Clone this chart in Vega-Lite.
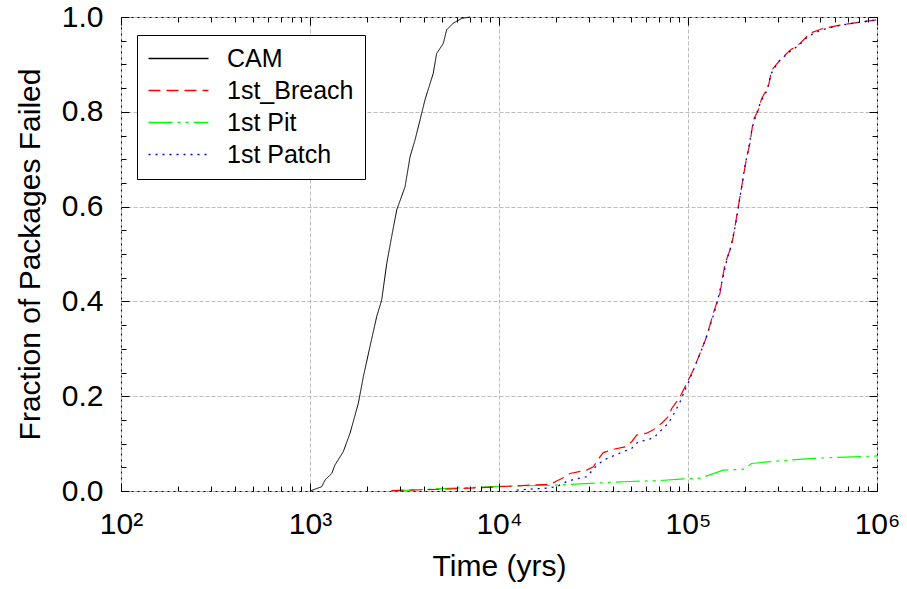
{
  "$schema": "https://vega.github.io/schema/vega-lite/v6.json",
  "width": 756,
  "height": 474,
  "autosize": "none",
  "padding": {"left": 121, "top": 17, "right": 30, "bottom": 98},
  "background": "white",
  "config": {
    "font": "Liberation Sans",
    "view": {"stroke": "#000000", "strokeWidth": 1},
    "axis": {
      "labelFont": "Liberation Sans",
      "titleFont": "Liberation Sans",
      "labelFontSize": 30,
      "titleFontSize": 30,
      "titleFontWeight": "normal",
      "labelColor": "#000000",
      "titleColor": "#000000",
      "tickColor": "#000000",
      "tickOpacity": 1,
      "tickWidth": 1,
      "ticks": true,
      "domain": false,
      "gridColor": "#bdbdbd",
      "gridDash": [4, 2],
      "gridWidth": 1,
      "labelFlush": false,
      "labelOverlap": false
    },
    "legend": {
      "labelFont": "Liberation Sans",
      "labelFontSize": 25,
      "labelColor": "#000000"
    }
  },
  "data": {
    "values": [
      {"s": "CAM", "t": 1000, "f": 0},
      {"s": "CAM", "t": 1153, "f": 0.009},
      {"s": "CAM", "t": 1200, "f": 0.023},
      {"s": "CAM", "t": 1303, "f": 0.037},
      {"s": "CAM", "t": 1356, "f": 0.055},
      {"s": "CAM", "t": 1500, "f": 0.083},
      {"s": "CAM", "t": 1629, "f": 0.122},
      {"s": "CAM", "t": 1802, "f": 0.185},
      {"s": "CAM", "t": 1915, "f": 0.241},
      {"s": "CAM", "t": 2077, "f": 0.305},
      {"s": "CAM", "t": 2254, "f": 0.368},
      {"s": "CAM", "t": 2395, "f": 0.403},
      {"s": "CAM", "t": 2547, "f": 0.48},
      {"s": "CAM", "t": 2705, "f": 0.537},
      {"s": "CAM", "t": 2877, "f": 0.593},
      {"s": "CAM", "t": 3184, "f": 0.642},
      {"s": "CAM", "t": 3383, "f": 0.705},
      {"s": "CAM", "t": 3597, "f": 0.741},
      {"s": "CAM", "t": 3822, "f": 0.783},
      {"s": "CAM", "t": 4057, "f": 0.825},
      {"s": "CAM", "t": 4488, "f": 0.881},
      {"s": "CAM", "t": 4677, "f": 0.923},
      {"s": "CAM", "t": 5072, "f": 0.944},
      {"s": "CAM", "t": 5287, "f": 0.973},
      {"s": "CAM", "t": 5728, "f": 0.987},
      {"s": "CAM", "t": 6350, "f": 0.997},
      {"s": "CAM", "t": 7030, "f": 1.0},
      {"s": "1st Pit", "t": 2680, "f": 0.0},
      {"s": "1st Pit", "t": 3400, "f": 0.002},
      {"s": "1st Pit", "t": 5700, "f": 0.006},
      {"s": "1st Pit", "t": 7930, "f": 0.008},
      {"s": "1st Pit", "t": 10100, "f": 0.01},
      {"s": "1st Pit", "t": 18600, "f": 0.012},
      {"s": "1st Pit", "t": 26800, "f": 0.015},
      {"s": "1st Pit", "t": 30290, "f": 0.016},
      {"s": "1st Pit", "t": 49320, "f": 0.02},
      {"s": "1st Pit", "t": 71100, "f": 0.022},
      {"s": "1st Pit", "t": 90780, "f": 0.025},
      {"s": "1st Pit", "t": 115700, "f": 0.027},
      {"s": "1st Pit", "t": 135000, "f": 0.036},
      {"s": "1st Pit", "t": 153800, "f": 0.044},
      {"s": "1st Pit", "t": 196300, "f": 0.046},
      {"s": "1st Pit", "t": 217300, "f": 0.058},
      {"s": "1st Pit", "t": 271600, "f": 0.062},
      {"s": "1st Pit", "t": 460300, "f": 0.069},
      {"s": "1st Pit", "t": 749400, "f": 0.072},
      {"s": "1st Pit", "t": 1000000, "f": 0.074},
      {"s": "1st_Breach", "t": 2700, "f": 0.001},
      {"s": "1st_Breach", "t": 3383, "f": 0.002},
      {"s": "1st_Breach", "t": 5180, "f": 0.004},
      {"s": "1st_Breach", "t": 7030, "f": 0.006},
      {"s": "1st_Breach", "t": 10100, "f": 0.009},
      {"s": "1st_Breach", "t": 14000, "f": 0.012},
      {"s": "1st_Breach", "t": 18600, "f": 0.014},
      {"s": "1st_Breach", "t": 20200, "f": 0.021},
      {"s": "1st_Breach", "t": 21900, "f": 0.028},
      {"s": "1st_Breach", "t": 23760, "f": 0.037},
      {"s": "1st_Breach", "t": 29100, "f": 0.044},
      {"s": "1st_Breach", "t": 31550, "f": 0.051},
      {"s": "1st_Breach", "t": 34220, "f": 0.072},
      {"s": "1st_Breach", "t": 35640, "f": 0.081},
      {"s": "1st_Breach", "t": 40270, "f": 0.088},
      {"s": "1st_Breach", "t": 46420, "f": 0.093},
      {"s": "1st_Breach", "t": 50370, "f": 0.104},
      {"s": "1st_Breach", "t": 53540, "f": 0.118},
      {"s": "1st_Breach", "t": 60430, "f": 0.122},
      {"s": "1st_Breach", "t": 65520, "f": 0.129},
      {"s": "1st_Breach", "t": 72560, "f": 0.143},
      {"s": "1st_Breach", "t": 78700, "f": 0.157},
      {"s": "1st_Breach", "t": 82000, "f": 0.174},
      {"s": "1st_Breach", "t": 90780, "f": 0.199},
      {"s": "1st_Breach", "t": 98500, "f": 0.227},
      {"s": "1st_Breach", "t": 106600, "f": 0.255},
      {"s": "1st_Breach", "t": 115700, "f": 0.29},
      {"s": "1st_Breach", "t": 125600, "f": 0.326},
      {"s": "1st_Breach", "t": 136100, "f": 0.375},
      {"s": "1st_Breach", "t": 147600, "f": 0.417},
      {"s": "1st_Breach", "t": 157000, "f": 0.48},
      {"s": "1st_Breach", "t": 166800, "f": 0.508},
      {"s": "1st_Breach", "t": 173700, "f": 0.537},
      {"s": "1st_Breach", "t": 184500, "f": 0.6},
      {"s": "1st_Breach", "t": 196300, "f": 0.663},
      {"s": "1st_Breach", "t": 204600, "f": 0.705},
      {"s": "1st_Breach", "t": 212800, "f": 0.734},
      {"s": "1st_Breach", "t": 221700, "f": 0.783},
      {"s": "1st_Breach", "t": 235600, "f": 0.804},
      {"s": "1st_Breach", "t": 245500, "f": 0.828},
      {"s": "1st_Breach", "t": 266000, "f": 0.853},
      {"s": "1st_Breach", "t": 277300, "f": 0.888},
      {"s": "1st_Breach", "t": 306700, "f": 0.909},
      {"s": "1st_Breach", "t": 346500, "f": 0.93},
      {"s": "1st_Breach", "t": 391500, "f": 0.944},
      {"s": "1st_Breach", "t": 442300, "f": 0.966},
      {"s": "1st_Breach", "t": 519700, "f": 0.976},
      {"s": "1st_Breach", "t": 637000, "f": 0.983},
      {"s": "1st_Breach", "t": 781000, "f": 0.988},
      {"s": "1st_Breach", "t": 1000000, "f": 0.994},
      {"s": "1st Patch", "t": 12410, "f": 0.002},
      {"s": "1st Patch", "t": 14590, "f": 0.004},
      {"s": "1st Patch", "t": 17880, "f": 0.006},
      {"s": "1st Patch", "t": 20200, "f": 0.009},
      {"s": "1st Patch", "t": 22800, "f": 0.02},
      {"s": "1st Patch", "t": 25240, "f": 0.025},
      {"s": "1st Patch", "t": 29100, "f": 0.03},
      {"s": "1st Patch", "t": 32210, "f": 0.05},
      {"s": "1st Patch", "t": 35640, "f": 0.065},
      {"s": "1st Patch", "t": 40270, "f": 0.074},
      {"s": "1st Patch", "t": 45460, "f": 0.083},
      {"s": "1st Patch", "t": 50370, "f": 0.09},
      {"s": "1st Patch", "t": 54580, "f": 0.104},
      {"s": "1st Patch", "t": 61660, "f": 0.108},
      {"s": "1st Patch", "t": 66900, "f": 0.115},
      {"s": "1st Patch", "t": 72560, "f": 0.129},
      {"s": "1st Patch", "t": 78700, "f": 0.143},
      {"s": "1st Patch", "t": 85340, "f": 0.167},
      {"s": "1st Patch", "t": 90780, "f": 0.188},
      {"s": "1st Patch", "t": 96390, "f": 0.213},
      {"s": "1st Patch", "t": 102000, "f": 0.235},
      {"s": "1st Patch", "t": 110000, "f": 0.268},
      {"s": "1st Patch", "t": 120000, "f": 0.305},
      {"s": "1st Patch", "t": 130000, "f": 0.345},
      {"s": "1st Patch", "t": 141000, "f": 0.39},
      {"s": "1st Patch", "t": 152000, "f": 0.445},
      {"s": "1st Patch", "t": 161000, "f": 0.49},
      {"s": "1st Patch", "t": 170000, "f": 0.52},
      {"s": "1st Patch", "t": 180000, "f": 0.57},
      {"s": "1st Patch", "t": 191000, "f": 0.635},
      {"s": "1st Patch", "t": 201000, "f": 0.69},
      {"s": "1st Patch", "t": 209000, "f": 0.72},
      {"s": "1st Patch", "t": 218000, "f": 0.765},
      {"s": "1st Patch", "t": 230000, "f": 0.795},
      {"s": "1st Patch", "t": 242000, "f": 0.82},
      {"s": "1st Patch", "t": 262000, "f": 0.845},
      {"s": "1st Patch", "t": 275000, "f": 0.88},
      {"s": "1st Patch", "t": 300000, "f": 0.905},
      {"s": "1st Patch", "t": 340000, "f": 0.925},
      {"s": "1st Patch", "t": 385000, "f": 0.94},
      {"s": "1st Patch", "t": 435000, "f": 0.96},
      {"s": "1st Patch", "t": 510000, "f": 0.973},
      {"s": "1st Patch", "t": 630000, "f": 0.982},
      {"s": "1st Patch", "t": 780000, "f": 0.988},
      {"s": "1st Patch", "t": 1000000, "f": 0.994}
    ]
  },
  "encoding": {
    "color": {
      "field": "s",
      "type": "nominal",
      "scale": {
        "domain": ["CAM", "1st_Breach", "1st Pit", "1st Patch"],
        "range": ["#000000", "#ff0000", "#00ff00", "#0000ff"]
      },
      "legend": {
        "title": null,
        "orient": "none",
        "legendX": 16,
        "legendY": 18,
        "padding": 11,
        "strokeColor": "#000000",
        "fillColor": "#ffffff",
        "symbolType": "M-3,0H3",
        "symbolSize": 400,
        "symbolOffset": 18,
        "symbolStrokeWidth": 1.5,
        "labelOffset": 36,
        "rowPadding": 6
      }
    },
    "strokeDash": {
      "field": "s",
      "type": "nominal",
      "scale": {
        "domain": ["CAM", "1st_Breach", "1st Pit", "1st Patch"],
        "range": [[1, 0], [12, 6], [24, 5, 3, 5, 3, 5], [2, 5]]
      },
      "legend": null
    }
  },
  "resolve": {"axis": {"x": "independent", "y": "independent"}},
  "layer": [
    {
      "transform": [{"filter": "datum.s === 'CAM'"}],
      "mark": {"type": "line", "strokeWidth": 1, "opacity": 0},
      "encoding": {
        "x": {
          "field": "t", "type": "quantitative",
          "scale": {"type": "log", "domain": [100, 1000000]},
          "axis": {
            "orient": "bottom",
            "values": [100, 1000, 10000, 100000, 1000000],
            "grid": true, "labels": false, "ticks": false, "zindex": 0, "title": null
          }
        },
        "y": {
          "field": "f", "type": "quantitative",
          "scale": {"domain": [0, 1]},
          "axis": {
            "orient": "left",
            "values": [0, 0.2, 0.4, 0.6, 0.8, 1.0],
            "grid": true, "labels": false, "ticks": false, "zindex": 0, "title": null
          }
        }
      }
    },
    {
      "transform": [{"filter": "datum.s === 'CAM'"}],
      "mark": {"type": "line", "strokeWidth": 1},
      "encoding": {
        "x": {
          "field": "t", "type": "quantitative",
          "scale": {"type": "log", "domain": [100, 1000000]},
          "axis": {
            "orient": "bottom",
            "values": [100, 1000, 10000, 100000, 1000000],
            "labelExpr": "'10' + (datum.value == 100 ? '²' : datum.value == 1000 ? '³' : datum.value == 10000 ? '⁴' : datum.value == 100000 ? '⁵' : '⁶')",
            "grid": false,
            "ticks": true,
            "zindex": 1,
            "offset": -8,
            "tickSize": 8,
            "labelPadding": 18,
            "title": "Time (yrs)",
            "titlePadding": 12
          }
        },
        "y": {
          "field": "f", "type": "quantitative",
          "scale": {"domain": [0, 1]},
          "axis": {
            "orient": "left",
            "values": [0, 0.2, 0.4, 0.6, 0.8, 1.0],
            "format": ".1f",
            "grid": false,
            "ticks": true,
            "zindex": 1,
            "offset": -8,
            "tickSize": 8,
            "labelPadding": 18,
            "title": "Fraction of Packages Failed",
            "titlePadding": 16
          }
        }
      }
    },
    {
      "transform": [{"filter": "datum.s === '1st Pit'"}],
      "mark": {"type": "line", "strokeWidth": 1.2},
      "encoding": {
        "x": {
          "field": "t", "type": "quantitative",
          "scale": {"type": "log", "domain": [100, 1000000]},
          "axis": {
            "orient": "bottom",
            "values": [200, 300, 400, 500, 600, 700, 800, 900, 2000, 3000, 4000, 5000, 6000, 7000, 8000, 9000, 20000, 30000, 40000, 50000, 60000, 70000, 80000, 90000, 200000, 300000, 400000, 500000, 600000, 700000, 800000, 900000],
            "labels": false, "grid": false, "ticks": true, "zindex": 1, "offset": -5, "tickSize": 5, "title": null
          }
        },
        "y": {
          "field": "f", "type": "quantitative",
          "scale": {"domain": [0, 1]},
          "axis": {
            "orient": "left",
            "values": [0.05, 0.1, 0.15, 0.25, 0.3, 0.35, 0.45, 0.5, 0.55, 0.65, 0.7, 0.75, 0.85, 0.9, 0.95],
            "labels": false, "grid": false, "ticks": true, "zindex": 1, "offset": -5, "tickSize": 5, "title": null
          }
        }
      }
    },
    {
      "transform": [{"filter": "datum.s === '1st_Breach'"}],
      "mark": {"type": "line", "strokeWidth": 1.2},
      "encoding": {
        "x": {
          "field": "t", "type": "quantitative",
          "scale": {"type": "log", "domain": [100, 1000000]},
          "axis": {
            "orient": "top",
            "values": [100, 1000, 10000, 100000, 1000000],
            "labels": false, "grid": false, "ticks": true, "zindex": 1, "offset": -8, "tickSize": 8, "title": null
          }
        },
        "y": {
          "field": "f", "type": "quantitative",
          "scale": {"domain": [0, 1]},
          "axis": {
            "orient": "right",
            "values": [0, 0.2, 0.4, 0.6, 0.8, 1.0],
            "labels": false, "grid": false, "ticks": true, "zindex": 1, "offset": -8, "tickSize": 8, "title": null
          }
        }
      }
    },
    {
      "transform": [{"filter": "datum.s === '1st Patch'"}],
      "mark": {"type": "line", "strokeWidth": 1.3},
      "encoding": {
        "x": {
          "field": "t", "type": "quantitative",
          "scale": {"type": "log", "domain": [100, 1000000]},
          "axis": {
            "orient": "top",
            "values": [200, 300, 400, 500, 600, 700, 800, 900, 2000, 3000, 4000, 5000, 6000, 7000, 8000, 9000, 20000, 30000, 40000, 50000, 60000, 70000, 80000, 90000, 200000, 300000, 400000, 500000, 600000, 700000, 800000, 900000],
            "labels": false, "grid": false, "ticks": true, "zindex": 1, "offset": -5, "tickSize": 5, "title": null
          }
        },
        "y": {
          "field": "f", "type": "quantitative",
          "scale": {"domain": [0, 1]},
          "axis": {
            "orient": "right",
            "values": [0.05, 0.1, 0.15, 0.25, 0.3, 0.35, 0.45, 0.5, 0.55, 0.65, 0.7, 0.75, 0.85, 0.9, 0.95],
            "labels": false, "grid": false, "ticks": true, "zindex": 1, "offset": -5, "tickSize": 5, "title": null
          }
        }
      }
    }
  ]
}
